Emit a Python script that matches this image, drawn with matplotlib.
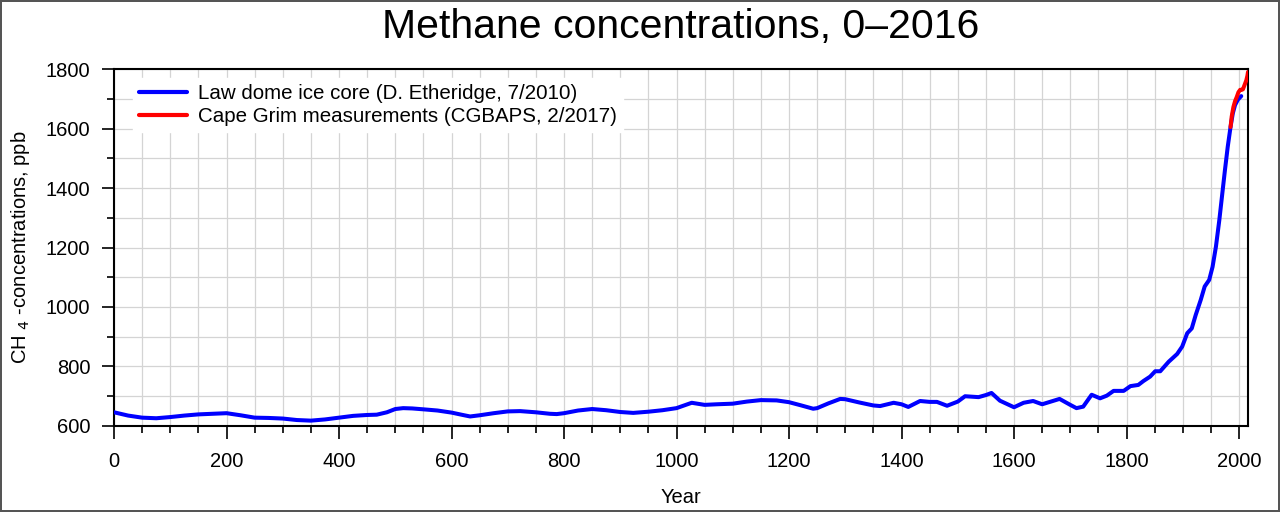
import matplotlib
matplotlib.use("Agg")
import matplotlib.pyplot as plt
from matplotlib.ticker import MultipleLocator

plt.rcParams['font.family'] = ['Liberation Sans', 'DejaVu Sans']

# Law Dome ice core (D. Etheridge, 7/2010)
law_years = [0, 25, 50, 75, 100, 125, 150, 175, 200, 225, 250, 275, 300, 325, 350,
             375, 400, 425, 450, 467, 485, 500, 514, 530, 550, 575, 600, 620, 633,
             650, 675, 700, 722, 750, 775, 787, 800, 825, 850, 875, 900, 923, 950,
             975, 1000, 1015, 1027, 1050, 1072, 1100, 1125, 1150, 1178, 1200, 1220,
             1243, 1250, 1270, 1291, 1300, 1325, 1350, 1362, 1386, 1400, 1412, 1433,
             1450, 1463, 1481, 1500, 1513, 1537, 1550, 1560, 1575, 1600, 1617, 1634,
             1650, 1681, 1700, 1711, 1723, 1738, 1753, 1765, 1777, 1795, 1807, 1821,
             1830, 1842, 1851, 1860, 1875, 1890, 1899, 1908, 1916, 1923, 1932, 1939,
             1947, 1953, 1959, 1965, 1971, 1975, 1980, 1985, 1989, 1993, 1998, 2004]
law_ch4 = [646, 635, 628, 626, 630, 635, 639, 641, 643, 636, 628, 627, 625, 620, 618,
           622, 628, 634, 637, 638, 646, 657, 660, 659, 656, 652, 645, 637, 632,
           636, 643, 649, 650, 646, 641, 640, 643, 652, 657, 653, 647, 644, 648,
           653, 660, 670, 678, 671, 673, 675, 682, 687, 686, 680, 670,
           658, 660, 676, 691, 690, 679, 669, 667, 678, 673, 664, 684,
           681, 681, 668, 682, 700, 697, 704, 711, 685, 663, 678, 684,
           673, 691, 671, 660, 665, 705, 693, 702, 718, 718, 734, 738,
           751, 766, 784, 784, 816, 842, 867, 912, 928, 973, 1024, 1069,
           1091, 1135, 1203, 1292, 1393, 1460, 1539, 1606, 1651, 1679, 1697, 1709]

# Cape Grim measurements (CGBAPS, 2/2017)
grim_years = [1985, 1987, 1990, 1993, 1996, 1999, 2002, 2005, 2007, 2009, 2011, 2013, 2015, 2016]
grim_ch4 = [1605, 1640, 1672, 1692, 1706, 1722, 1730, 1730, 1732, 1742, 1752, 1762, 1778, 1790]

fig = plt.figure(figsize=(12.8, 5.12), dpi=100)
fig.patch.set_edgecolor('#555555')
fig.patch.set_linewidth(1.5)
ax = fig.add_axes([0.0891, 0.168, 0.8859, 0.6972])

ax.plot(law_years, law_ch4, color='#0000ff', lw=2.9, solid_joinstyle='round',
        solid_capstyle='round', label='Law dome ice core (D. Etheridge, 7/2010)', zorder=3)
ax.plot(grim_years, grim_ch4, color='#ff0000', lw=2.9, solid_joinstyle='round',
        solid_capstyle='round', label='Cape Grim measurements (CGBAPS, 2/2017)', zorder=4)

ax.set_xlim(0, 2016)
ax.set_ylim(600, 1800)
ax.xaxis.set_major_locator(MultipleLocator(200))
ax.xaxis.set_minor_locator(MultipleLocator(50))
ax.yaxis.set_major_locator(MultipleLocator(200))
ax.yaxis.set_minor_locator(MultipleLocator(100))
ax.grid(True, which='both', color='#d4d4d4', lw=0.9, zorder=0)
ax.set_axisbelow(True)

ax.tick_params(which='major', direction='out', length=9, width=1.2, labelsize=14.5, pad=8)
ax.tick_params(which='minor', direction='out', length=5, width=1.2)
ax.tick_params(axis='x', which='major', pad=10)
for s in ax.spines.values():
    s.set_linewidth(1.5)
    s.set_color('black')

ax.set_title('Methane concentrations, 0–2016', fontsize=29.5, pad=22)
ax.set_xlabel('Year', fontsize=14.5, labelpad=12)
ax.set_ylabel('CH $_{4}$ -concentrations, ppb', fontsize=14.5, labelpad=10)

leg = ax.legend(loc='upper left', bbox_to_anchor=(0.0169, 0.9742), fontsize=14.8,
                frameon=True, framealpha=1, edgecolor='white', handlelength=2.3,
                handletextpad=0.55, labelspacing=0.18, borderaxespad=0.0,
                borderpad=0.3, fancybox=False)
for h in leg.get_lines():
    h.set_linewidth(3)

fig.savefig('out.png', dpi=100)
